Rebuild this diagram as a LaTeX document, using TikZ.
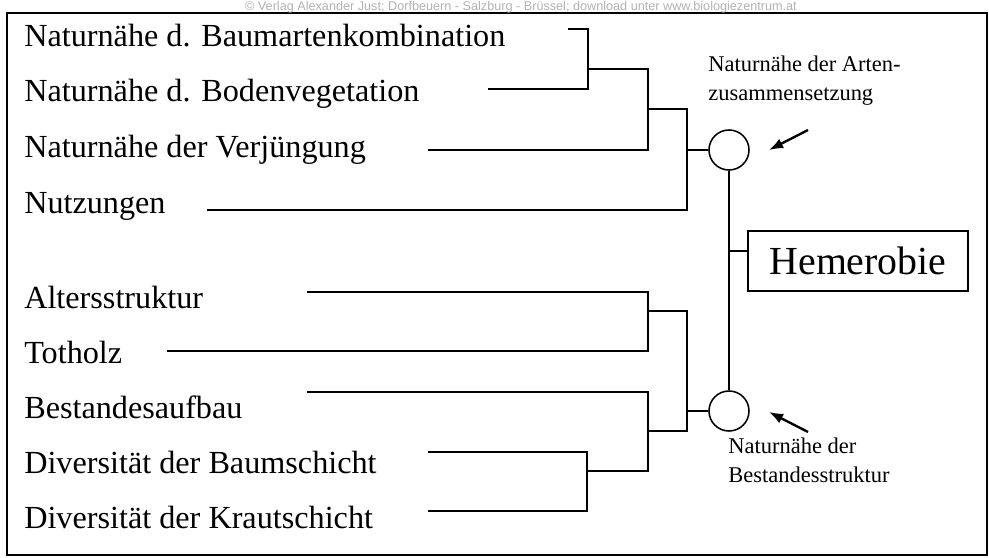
\documentclass[tikz,border=0pt]{standalone}
\usepackage{fontspec}
\setmainfont{Liberation Serif}
\newfontfamily\markfont{Liberation Sans}
\usetikzlibrary{arrows.meta}

\begin{document}
\begin{tikzpicture}[x=0.025cm,y=-0.025cm,>={Latex[length=10pt,width=7.5pt]},
        item/.style={anchor=base west,inner sep=0pt,font=\fontsize{22.9}{27}\selectfont},
        note/.style={anchor=north west,inner sep=0pt,align=left,font=\fontsize{16}{20.4}\selectfont},
        wire/.style={line width=1.1pt},
        ring/.style={draw,circle,line width=1.1pt,minimum size=1cm,inner sep=0pt},
        pointer/.style={->,line width=1.7pt}]
        \useasboundingbox (0,0) rectangle (989,558);

        % draw the frame and the watermark
        \draw[line width=1.3pt] (7,13) rectangle (987,555);
        \node[anchor=base,inner sep=0pt,text=black!30,font=\markfont\fontsize{9}{11}\selectfont] (mark) at (521,10.5)
            {© Verlag Alexander Just; Dorfbeuern - Salzburg - Brüssel; download unter www.biologiezentrum.at};

        % draw the criteria and where their lines start
        \foreach \n/\y/\sx/\sy/\t in {
            % the coordinates for the species group
            bk/47/568/29/Naturnähe d. Baumartenkombination,
            bv/102/488/89/Naturnähe d. Bodenvegetation,
            vj/157/428/150/Naturnähe der Verjüngung,
            nz/213/207/210/Nutzungen,
            % the coordinates for the structure group
            as/308/307/292/Altersstruktur,
            th/363/167/351/Totholz,
            ba/418/307/392/Bestandesaufbau,
            db/473/428/452/Diversität der Baumschicht,
            dk/528/428/511/Diversität der Krautschicht}
            {
                \node[item] (\n) at (24,\y) {\t};
                \coordinate (\n-s) at (\sx,\sy);
            }

        % draw the two circles and the result
        \node[ring] (ca) at (729,150) {};
        \node[ring] (cb) at (729,411) {};
        \node[draw,line width=1.1pt,minimum width=5.5cm,minimum height=1.5cm,inner sep=0pt,
            font=\fontsize{28.3}{32}\selectfont] (hem) at (858,261) {Hemerobie};

        % the joints of the brackets
        \coordinate (b1) at (588,69);
        \coordinate (b2) at (648,109);
        \coordinate (b3) at (687,150);
        \coordinate (c1) at (648,311);
        \coordinate (c2) at (587,471);
        \coordinate (c3) at (648,431);
        \coordinate (c4) at (687,411);
        \coordinate (h0) at (729,251);

        % draw the upper brackets
        \draw[wire] (bk-s) -| (b1) |- (bv-s);
        \draw[wire] (b1) -| (b2) |- (vj-s);
        \draw[wire] (b2) -| (b3) |- (nz-s);
        \draw[wire] (b3) -- (ca);

        % draw the lower brackets
        \draw[wire] (as-s) -| (c1) |- (th-s);
        \draw[wire] (db-s) -| (c2) |- (dk-s);
        \draw[wire] (ba-s) -| (c3) |- (c2);
        \draw[wire] (c1) -| (c4) |- (c3);
        \draw[wire] (c4) -- (cb);

        % draw the stem to the result
        \draw[wire] (ca) -- (cb);
        \draw[wire] (h0) -- (h0 -| hem.west);

        % draw the labels with their arrows
        \node[note] (la) at (708,55.5) {Naturnähe der Arten-\\zusammensetzung};
        \node[note] (lb) at (728,437.5) {Naturnähe der\\Bestandesstruktur};
        \coordinate (pa) at (808,130);
        \coordinate (qa) at (769,150);
        \coordinate (pb) at (808,432);
        \coordinate (qb) at (769,412);
        \draw[pointer] (pa) -- (qa);
        \draw[pointer] (pb) -- (qb);

\end{tikzpicture}
\end{document}
